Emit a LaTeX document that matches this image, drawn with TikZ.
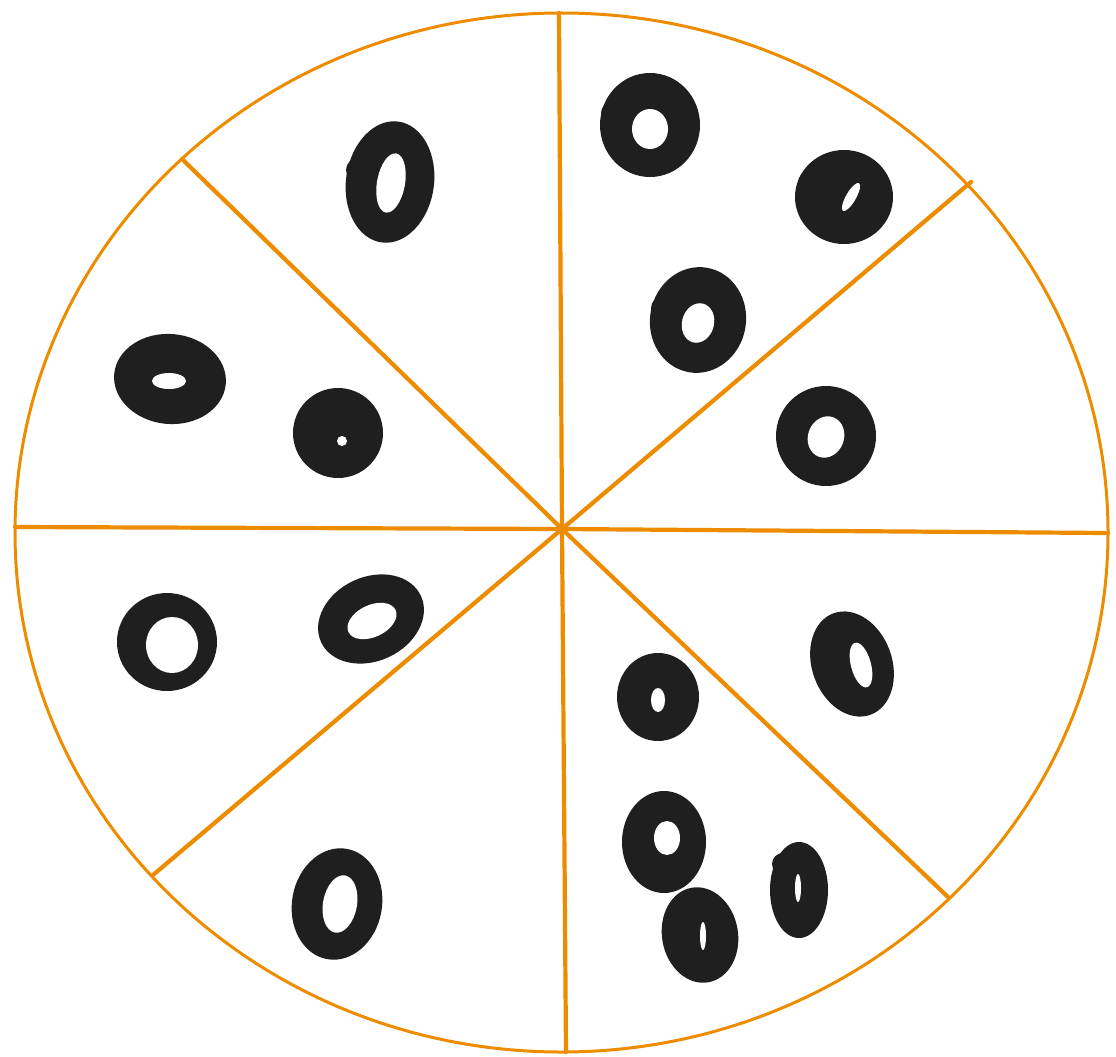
\documentclass[tikz,border=0pt]{standalone}
\definecolor{crust}{RGB}{238,140,0}
\definecolor{olivec}{RGB}{31,31,31}
\tikzset{
  rim/.style={draw=crust, line width=3pt},
  spoke/.style={draw=crust, line width=4.2pt, line cap=round},
  olivebody/.style={fill=olivec},
  olivehole/.style={fill=white}
}
\newcommand{\olv}[5]{\fill[olivebody, rotate around={#5:(#1,#2)}] (#1,#2) ellipse [x radius=#3pt, y radius=#4pt];}
\newcommand{\hol}[5]{\fill[olivehole, rotate around={#5:(#1,#2)}] (#1,#2) ellipse [x radius=#3pt, y radius=#4pt];}
\begin{document}
\begin{tikzpicture}[x=1pt,y=-1pt]
\useasboundingbox (0,0) rectangle (1116,1057);
\fill[white] (0,0) rectangle (1116,1057);
% pizza rim
\path[rim] (561.5,532.5) ellipse [x radius=546.5pt, y radius=519.5pt];
% spokes
\coordinate (c) at (562,529);
\coordinate (n) at (559,13);
\coordinate (s) at (566,1052);
\coordinate (w) at (15,527);
\coordinate (e) at (1108,533);
\coordinate (nw) at (182,159);
\coordinate (ne) at (971,182);
\coordinate (sw) at (153,875);
\coordinate (se) at (948,897);
\foreach \p in {n,s,w,e,nw,ne,sw,se} \draw[spoke] (c) -- (\p);
% olives
\olv{390}{182}{44}{61}{-8}   \hol{391}{183}{14}{30}{-10}
\fill[olivebody] (358,170) circle [radius=12pt];
\olv{650}{125}{50}{52}{0}    \hol{650}{129}{18}{20}{0}
\fill[olivebody] (612,113) circle [radius=11pt];
\olv{844}{197}{49}{47}{0}    \hol{851}{197}{5}{16}{-30}
\fill[olivebody] (810,183) circle [radius=12pt];
\olv{698}{320}{48}{53}{-10}  \hol{698}{323}{16}{20}{-15}
\fill[olivebody] (662,308) circle [radius=11pt];
\olv{826}{436}{50}{50}{0}    \hol{826}{437}{18}{21}{-20}
\olv{170}{379}{56}{45}{-5}   \hol{169}{381}{17}{8}{0}
\olv{338}{433}{45}{45}{0}    \hol{342}{441}{5}{5}{0}
\olv{167}{642}{50}{49}{0}    \hol{172}{645}{26}{28}{0}
\fill[olivebody] (130,636) circle [radius=11pt];
\olv{371}{619}{55}{42}{25}   \hol{372}{621}{26}{16}{25}
\olv{852}{664}{40}{54}{20}   \hol{861}{665}{10}{23}{15}
\fill[olivebody] (826,640) circle [radius=13pt];
\olv{658}{697}{41}{44}{0}    \hol{658}{700}{7}{12}{0}
\olv{664}{842}{42}{51}{0}    \hol{667}{838}{13}{17}{0}
\olv{799}{890}{29}{48}{0}    \hol{798}{888}{3}{14}{0}
\fill[olivebody] (783,864) circle [radius=11pt];
\olv{700}{935}{38}{48}{10}   \hol{703}{936}{3}{14}{0}
\fill[olivebody] (677,918) circle [radius=12pt];
\olv{337}{904}{45}{56}{-10}  \hol{340}{904}{17}{29}{-10}
\fill[olivebody] (306,896) circle [radius=12pt];
\end{tikzpicture}
\end{document}
